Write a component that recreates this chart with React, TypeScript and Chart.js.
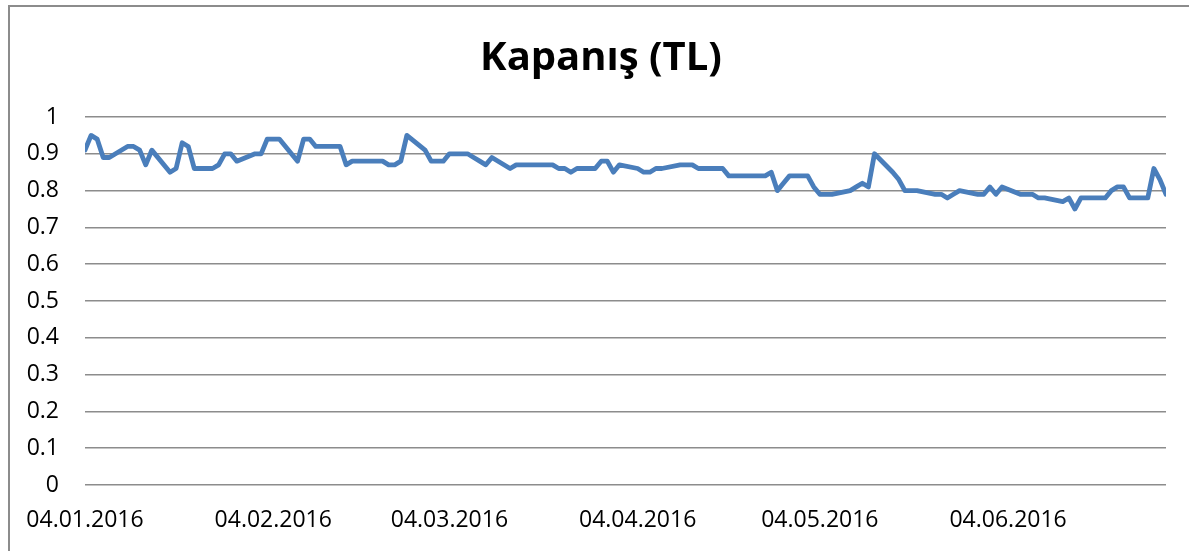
import React, { useEffect, useRef } from 'react';
import { Chart, registerables } from 'chart.js';

Chart.register(...registerables);

const chartTitle = 'Kapanış (TL)';

const janDates = ['04.01.2016','05.01.2016','06.01.2016','07.01.2016','08.01.2016','11.01.2016','12.01.2016','13.01.2016','14.01.2016','15.01.2016','18.01.2016','19.01.2016','20.01.2016','21.01.2016','22.01.2016','25.01.2016','26.01.2016','27.01.2016','28.01.2016','29.01.2016'];
const janCloses = [0.91,0.95,0.94,0.89,0.89,0.92,0.92,0.91,0.87,0.91,0.85,0.86,0.93,0.92,0.86,0.86,0.87,0.90,0.90,0.88];

const febDates = ['01.02.2016','02.02.2016','03.02.2016','04.02.2016','05.02.2016','08.02.2016','09.02.2016','10.02.2016','11.02.2016','12.02.2016','15.02.2016','16.02.2016','17.02.2016','18.02.2016','19.02.2016','22.02.2016','23.02.2016','24.02.2016','25.02.2016','26.02.2016','29.02.2016'];
const febCloses = [0.90,0.90,0.94,0.94,0.94,0.88,0.94,0.94,0.92,0.92,0.92,0.87,0.88,0.88,0.88,0.88,0.87,0.87,0.88,0.95,0.91];

const marDates = ['01.03.2016','02.03.2016','03.03.2016','04.03.2016','07.03.2016','08.03.2016','09.03.2016','10.03.2016','11.03.2016','14.03.2016','15.03.2016','16.03.2016','17.03.2016','18.03.2016','21.03.2016','22.03.2016','23.03.2016','24.03.2016','25.03.2016','28.03.2016','29.03.2016','30.03.2016','31.03.2016'];
const marCloses = [0.88,0.88,0.88,0.90,0.90,0.89,0.88,0.87,0.89,0.86,0.87,0.87,0.87,0.87,0.87,0.86,0.86,0.85,0.86,0.86,0.88,0.88,0.85];

const aprDates = ['01.04.2016','04.04.2016','05.04.2016','06.04.2016','07.04.2016','08.04.2016','11.04.2016','12.04.2016','13.04.2016','14.04.2016','15.04.2016','18.04.2016','19.04.2016','20.04.2016','21.04.2016','22.04.2016','25.04.2016','26.04.2016','27.04.2016','28.04.2016','29.04.2016'];
const aprCloses = [0.87,0.86,0.85,0.85,0.86,0.86,0.87,0.87,0.87,0.86,0.86,0.86,0.84,0.84,0.84,0.84,0.84,0.85,0.80,0.82,0.84];

const mayDates = ['02.05.2016','03.05.2016','04.05.2016','05.05.2016','06.05.2016','09.05.2016','10.05.2016','11.05.2016','12.05.2016','13.05.2016','16.05.2016','17.05.2016','18.05.2016','20.05.2016','23.05.2016','24.05.2016','25.05.2016','26.05.2016','27.05.2016','30.05.2016','31.05.2016'];
const mayCloses = [0.84,0.81,0.79,0.79,0.79,0.80,0.81,0.82,0.81,0.90,0.85,0.83,0.80,0.80,0.79,0.79,0.78,0.79,0.80,0.79,0.79];

const junDates = ['01.06.2016','02.06.2016','03.06.2016','06.06.2016','07.06.2016','08.06.2016','09.06.2016','10.06.2016','13.06.2016','14.06.2016','15.06.2016','16.06.2016','17.06.2016','20.06.2016','21.06.2016','22.06.2016','23.06.2016','24.06.2016','27.06.2016','28.06.2016','29.06.2016','30.06.2016'];
const junCloses = [0.81,0.79,0.81,0.79,0.79,0.79,0.78,0.78,0.77,0.78,0.75,0.78,0.78,0.78,0.80,0.81,0.81,0.78,0.78,0.86,0.83,0.79];

const tickLabels = ['04.01.2016','04.02.2016','04.03.2016','04.04.2016','04.05.2016','04.06.2016'];
const axisStart = '04.01.2016';
const axisEnd = '30.06.2016';

const toDay = (s: string) => {
  const [d, m, y] = s.split('.').map(Number);
  const [d0, m0, y0] = axisStart.split('.').map(Number);
  return Math.round((Date.UTC(y, m - 1, d) - Date.UTC(y0, m0 - 1, d0)) / 86400000);
};

const allDates = [...janDates, ...febDates, ...marDates, ...aprDates, ...mayDates, ...junDates];
const allCloses = [...janCloses, ...febCloses, ...marCloses, ...aprCloses, ...mayCloses, ...junCloses];

const W = 1189;
const H = 551;
const FONT = "'Open Sans', 'DejaVu Sans', sans-serif";

export default function App() {
  const ref = useRef<HTMLCanvasElement | null>(null);
  useEffect(() => {
    if (!ref.current) return;
    const frame = {
      id: 'frame',
      afterLayout(chart: any) {
        // centre the title over the whole chart frame (as in the original)
        if (chart.titleBlock) {
          chart.titleBlock.left = 36;
          chart.titleBlock.right = 1166;
        }
      },
      beforeDraw(chart: any) {
        const ctx = chart.ctx;
        ctx.save();
        ctx.strokeStyle = '#8c8c8c';
        ctx.lineWidth = 2;
        ctx.beginPath();
        ctx.moveTo(9, H);
        ctx.lineTo(9, 6);
        ctx.lineTo(W, 6);
        ctx.stroke();
        ctx.restore();
      },
    };
    const chart = new Chart(ref.current, {
      type: 'line',
      data: {
        datasets: [
          {
            label: chartTitle,
            data: allDates.map((d, i) => ({ x: toDay(d), y: allCloses[i] })),
            borderColor: '#4a7ebb',
            backgroundColor: '#4a7ebb',
            borderWidth: 4.8,
            pointRadius: 0,
            tension: 0,
            borderJoinStyle: 'round',
            borderCapStyle: 'round',
            fill: false,
          },
        ],
      },
      options: {
        animation: false,
        responsive: false,
        devicePixelRatio: 1,
        locale: 'en-US',
        layout: { padding: { left: 0, right: 23, top: 0, bottom: 0 } },
        plugins: {
          legend: { display: false },
          tooltip: { enabled: false },
          title: {
            display: true,
            text: chartTitle,
            color: '#000',
            font: { family: FONT, size: 40, weight: 'bold' },
            padding: { top: 35, bottom: 34 },
          },
        },
        scales: {
          x: {
            type: 'linear',
            min: 0,
            max: toDay(axisEnd),
            afterBuildTicks: (scale: any) => {
              scale.ticks = tickLabels.map((l) => ({ value: toDay(l) }));
            },
            afterFit: (scale: any) => {
              scale.height = 66;
            },
            grid: { display: false },
            border: { display: false },
            ticks: {
              autoSkip: false,
              maxRotation: 0,
              minRotation: 0,
              color: '#000',
              padding: 14,
              font: { family: FONT, size: 23 },
              callback: (v: any) => tickLabels.find((l) => toDay(l) === v) ?? '',
            },
          },
          y: {
            min: 0,
            max: 1,
            afterFit: (scale: any) => {
              scale.width = 85;
            },
            grid: { color: '#8c8c8c', lineWidth: 1.5, drawTicks: false },
            border: { display: false },
            ticks: {
              stepSize: 0.1,
              color: '#000',
              padding: 26,
              font: { family: FONT, size: 23 },
              callback: (v: any) => String(Number(Number(v).toFixed(1))),
            },
          },
        },
      },
      plugins: [frame],
    } as any);
    return () => chart.destroy();
  }, []);
  return (
    <div style={{ position: 'fixed', left: 0, top: 0, width: W, height: H, background: '#fff' }}>
      <canvas ref={ref} width={W} height={H} style={{ width: W, height: H, display: 'block' }} />
    </div>
  );
}
